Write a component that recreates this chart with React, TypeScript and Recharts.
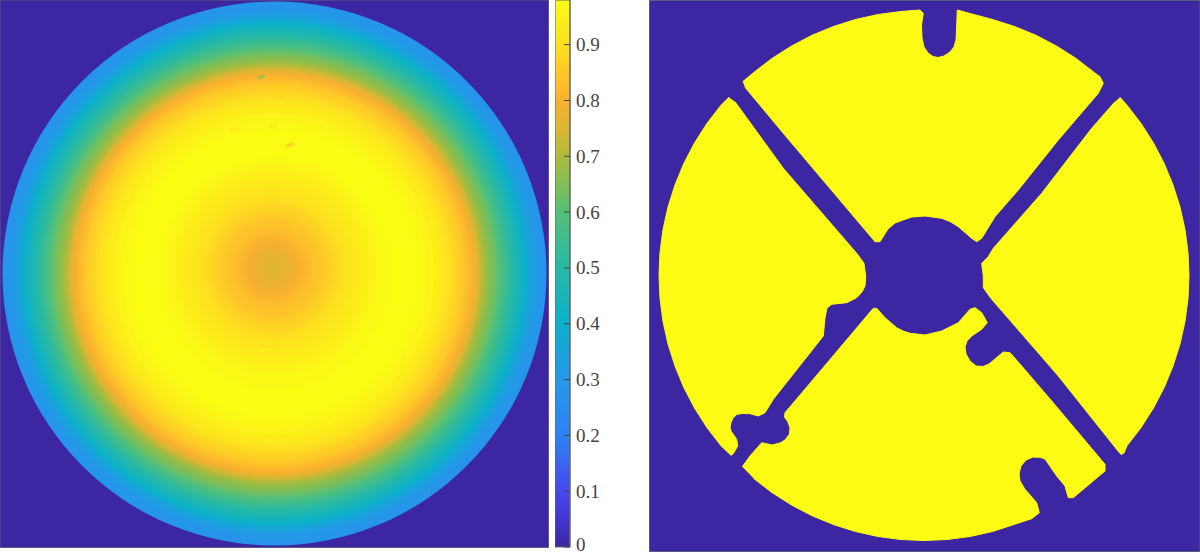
import React from 'react';
import {
  ScatterChart, Scatter, XAxis, YAxis, ReferenceArea,
  BarChart, Bar,
} from 'recharts';

// ---------- colour scale (value -> colour) ----------
const scaleValues = [0, 0.05, 0.1, 0.2, 0.3, 0.4, 0.5, 0.6, 0.65, 0.7, 0.75, 0.8, 0.85, 0.9, 0.98];
const scaleColors = ['#3c26a2', '#4435d0', '#4648ee', '#2e82f5', '#2498e8', '#0cb0cc', '#25b9a6', '#55c078', '#80be55', '#aebb3b', '#dcb632', '#f9b030', '#fec828', '#fde020', '#fbfb14'];
const colorbarTicks = [0, 0.1, 0.2, 0.3, 0.4, 0.5, 0.6, 0.7, 0.8, 0.9];
const colorbarTop = 0.98;

const BG = '#3c26a2';
const MASK = '#fdfb14';

// ---------- left panel: radial intensity profile ----------
const outerRadii = [272, 270, 268, 266, 264, 262, 260, 258, 256, 254, 252, 250, 248, 246, 244, 242, 240, 238, 236, 234, 232, 230, 228, 226, 224, 222, 220, 218, 216, 214, 212, 210, 208, 206, 204, 202, 200, 198, 196, 194, 192, 190, 188, 184, 180, 176, 172, 168, 164, 160, 156, 152, 148, 144, 140, 136, 132, 128, 124, 120, 116, 112];
const outerValues = [0.28, 0.285, 0.29, 0.295, 0.3, 0.31, 0.325, 0.34, 0.355, 0.375, 0.395, 0.415, 0.43, 0.445, 0.46, 0.475, 0.49, 0.505, 0.52, 0.535, 0.55, 0.565, 0.58, 0.595, 0.61, 0.625, 0.64, 0.65, 0.66, 0.67, 0.685, 0.7, 0.72, 0.74, 0.76, 0.78, 0.8, 0.81, 0.82, 0.83, 0.84, 0.85, 0.86, 0.875, 0.89, 0.905, 0.92, 0.935, 0.945, 0.955, 0.96, 0.97, 0.975, 0.98, 0.98, 0.98, 0.98, 0.98, 0.98, 0.98, 0.975, 0.97];
const innerRadii = [108, 104, 100, 96, 92, 88, 84, 80, 76, 72, 68, 64, 60, 56, 52, 48, 44, 40, 36, 32, 28, 24, 20, 16, 12, 8, 4];
const innerValues = [0.965, 0.96, 0.95, 0.945, 0.94, 0.93, 0.925, 0.915, 0.91, 0.9, 0.89, 0.88, 0.87, 0.86, 0.85, 0.84, 0.835, 0.83, 0.82, 0.81, 0.8, 0.79, 0.78, 0.77, 0.765, 0.76, 0.755];
const outerCentre = { x: 274.5, y: 273.5 };
const innerCentre = { x: 273, y: 268 };
// small surface defects
const spotX = [261, 290, 273, 235, 280, 130, 262];
const spotY = [77, 145, 126, 130, 97, 403, 350];
const spotValues = [0.68, 0.88, 0.93, 0.93, 0.87, 0.84, 0.94];
const spotSizes = [4, 5, 5, 6, 3, 3, 4];

// ---------- right panel: binary mask outlines ----------
const topSector: [number, number][] = [[742.7, 81.7], [753.7, 72.5], [772, 58.4], [791.5, 46], [812, 35.3], [833.4, 26.5], [855.4, 19.5], [878, 14.5], [900.9, 11.5], [920, 10], [923.3, 13.3], [921.5, 25], [922, 38], [924, 47], [928, 53], [933, 56.5], [938, 57.5], [944, 56], [950, 52], [954, 47], [956, 40], [956.5, 30], [957.3, 10], [970, 13.5], [992.6, 19.5], [1014.6, 26.5], [1036, 35.3], [1056.5, 46], [1076, 58.4], [1094.3, 72.5], [1100, 76.7], [1103.3, 83.3], [1098.3, 93.3], [1058.3, 140], [1018.3, 190], [995, 216.7], [981.7, 238.3], [976.7, 241.7], [971.7, 238.3], [958.3, 226.7], [950, 221.5], [941.7, 218.3], [925, 216], [912, 217], [903.3, 220], [895, 223], [888, 229], [880, 241.7], [875, 241.7], [856.7, 220], [783.3, 133.3], [745, 87.3]];
const rightSector: [number, number][] = [[1120, 97.3], [1127, 105.2], [1141.1, 123.5], [1153.5, 143], [1164.2, 163.5], [1173, 184.9], [1180, 206.9], [1185, 229.5], [1188, 252.4], [1189, 275.5], [1188, 298.6], [1185, 321.5], [1180, 344.1], [1173, 366.1], [1164.2, 387.5], [1153.5, 408], [1141.1, 427.5], [1127, 445.8], [1124, 453], [1121, 454.5], [1118, 451], [1058.3, 376], [991.7, 299.3], [983.3, 287.7], [983.3, 276], [981.7, 263.3], [988.3, 256.7], [993.3, 248.3], [1041.7, 193.3], [1091.7, 128.3], [1115, 101.7]];
const leftSector: [number, number][] = [[729, 97.3], [721, 105.2], [706.9, 123.5], [694.5, 143], [683.8, 163.5], [675, 184.9], [668, 206.9], [663, 229.5], [660, 252.4], [659, 275.5], [660, 298.6], [663, 321.5], [668, 344.1], [675, 366.1], [683.8, 387.5], [694.5, 408], [706.9, 427.5], [721, 445.8], [731, 455.3], [733.3, 453.7], [737.7, 446], [736.7, 439.3], [731, 431], [730, 427], [731, 422.7], [733, 418], [737, 414.3], [743, 413.5], [750, 413.7], [758.3, 416], [765, 412.7], [773.3, 399.3], [823.3, 336], [825, 318], [827, 308], [831.7, 304.3], [846.7, 302.7], [856.7, 297.7], [862, 292], [865, 286], [865.7, 276], [864, 263.3], [856.7, 253.3], [783.3, 168.3], [735, 101.7]];
const bottomSector: [number, number][] = [[742.3, 466.7], [750, 456], [761.7, 442.7], [772, 445], [780, 443], [785, 440], [789.5, 434], [790, 428], [788, 422], [784.5, 417], [785, 412.7], [813.3, 379.3], [873.3, 308.3], [876.7, 308.3], [885, 317.7], [890, 322], [896.7, 327.7], [903, 331], [910, 333.3], [925, 335], [941.7, 331], [958.3, 322.7], [970, 309.3], [975, 307.7], [981.7, 312.7], [987.3, 322.7], [981.7, 329.3], [971.7, 336], [967, 341], [965, 347], [966, 354], [970, 361], [976, 366], [983, 366.5], [989, 364], [1003.3, 352], [1010, 352.7], [1021.7, 366], [1051.7, 401], [1105, 464.3], [1105, 471], [1073.3, 497.7], [1068.3, 497.7], [1065, 486], [1056.7, 476], [1045, 459], [1040, 457.3], [1033, 457], [1026, 460], [1021, 466], [1019, 474], [1020, 481], [1025, 489.3], [1036.7, 502.7], [1039.3, 512.7], [1031.7, 518.7], [992.6, 531.5], [970, 536.5], [947.1, 539.5], [924, 540.5], [900.9, 539.5], [878, 536.5], [855.4, 531.5], [833.4, 524.5], [812, 515.7], [791.5, 505], [772, 492.6], [753.7, 478.5]];
const maskSectors = [topSector, rightSector, leftSector, bottomSector];

// ---------- helpers ----------
const hexToRgb = (h: string) => [1, 3, 5].map((i) => parseInt(h.slice(i, i + 2), 16));
function colorOf(v: number): string {
  let i = 0;
  while (i < scaleValues.length - 2 && v > scaleValues[i + 1]) i++;
  const t = Math.min(1, Math.max(0, (v - scaleValues[i]) / (scaleValues[i + 1] - scaleValues[i])));
  const a = hexToRgb(scaleColors[i]);
  const b = hexToRgb(scaleColors[i + 1]);
  return `rgb(${a.map((c, k) => Math.round(c + (b[k] - c) * t)).join(',')})`;
}

const ringRows = (radii: number[], values: number[], c: { x: number; y: number }) =>
  radii.map((r, i) => ({ x: c.x, y: c.y, r, value: values[i] }));
const outerRows = ringRows(outerRadii, outerValues, outerCentre);
const innerRows = ringRows(innerRadii, innerValues, innerCentre);
const spotRows = spotX.map((x, i) => ({ x, y: spotY[i], value: spotValues[i], s: spotSizes[i] }));
const colorbarRows = [{ name: 'scale', value: colorbarTop }];

const Ring = (p: any) => <circle cx={p.cx} cy={p.cy} r={p.payload.r} fill={colorOf(p.payload.value)} />;
const Spot = (p: any) => (
  <ellipse cx={p.cx} cy={p.cy} rx={p.payload.s} ry={p.payload.s * 0.45} fill={colorOf(p.payload.value)} opacity={0.8} transform={`rotate(-15 ${p.cx} ${p.cy})`} />
);
const Nothing = () => null;

const ColorbarTick = (p: any) => (
  <text x={p.x} y={p.y + (p.payload.value === 0 ? -2 : 0)} dy="0.34em" textAnchor="start" fontFamily="'Liberation Serif', serif" fontSize={19} fill="#444">
    {p.payload.value}
  </text>
);

const box = (left: number, top: number): React.CSSProperties => ({ position: 'absolute', left, top });

export default function App() {
  return (
    <div style={{ position: 'absolute', left: 0, top: 0, width: 1200, height: 552, background: '#fff', overflow: 'hidden' }}>
      <div style={box(0, 0)}>
        <ScatterChart width={549} height={548} margin={{ top: 0, right: 0, bottom: 0, left: 0 }}>
          <XAxis type="number" dataKey="x" domain={[0, 549]} hide />
          <YAxis type="number" dataKey="y" domain={[0, 548]} reversed hide />
          <ReferenceArea x1={0} x2={548.5} y1={0} y2={547.5} fill={BG} fillOpacity={1} stroke="#5c5c78" strokeWidth={1} />
          <Scatter data={outerRows} shape={Ring} isAnimationActive={false} />
          <Scatter data={innerRows} shape={Ring} isAnimationActive={false} />
          <Scatter data={spotRows} shape={Spot} isAnimationActive={false} />
        </ScatterChart>
      </div>

      <div style={box(555, 0)}>
        <BarChart width={45} height={552} data={colorbarRows} barCategoryGap={0} margin={{ top: 0, right: 0, bottom: 5, left: 0 }}>
          <defs>
            <linearGradient id="parula" x1="0" y1="1" x2="0" y2="0">
              {scaleValues.map((v, i) => (
                <stop key={v} offset={v / colorbarTop} stopColor={scaleColors[i]} />
              ))}
            </linearGradient>
          </defs>
          <XAxis dataKey="name" hide />
          <YAxis
            orientation="right"
            width={30}
            domain={[0, colorbarTop]}
            ticks={colorbarTicks}
            interval={0}
            tickSize={-6}
            tickMargin={12}
            tick={ColorbarTick}
            tickLine={{ stroke: '#444' }}
            axisLine={{ stroke: '#666' }}
          />
          <Bar dataKey="value" fill="url(#parula)" stroke="#666" strokeWidth={1} isAnimationActive={false} />
        </BarChart>
      </div>

      <div style={box(649, 0)}>
        <ScatterChart width={551} height={552} margin={{ top: 0, right: 0, bottom: 0, left: 0 }}>
          <XAxis type="number" dataKey="x" domain={[649, 1200]} hide />
          <YAxis type="number" dataKey="y" domain={[0, 552]} reversed hide />
          <ReferenceArea x1={649.5} x2={1200} y1={0.5} y2={551.5} fill={BG} fillOpacity={1} stroke="#5c5c78" strokeWidth={1} />
          {maskSectors.map((sector, i) => (
            <Scatter
              key={i}
              data={sector.map(([x, y]) => ({ x, y }))}
              shape={Nothing}
              line={{ fill: MASK, stroke: MASK, strokeWidth: 1 }}
              isAnimationActive={false}
            />
          ))}
        </ScatterChart>
      </div>
    </div>
  );
}
